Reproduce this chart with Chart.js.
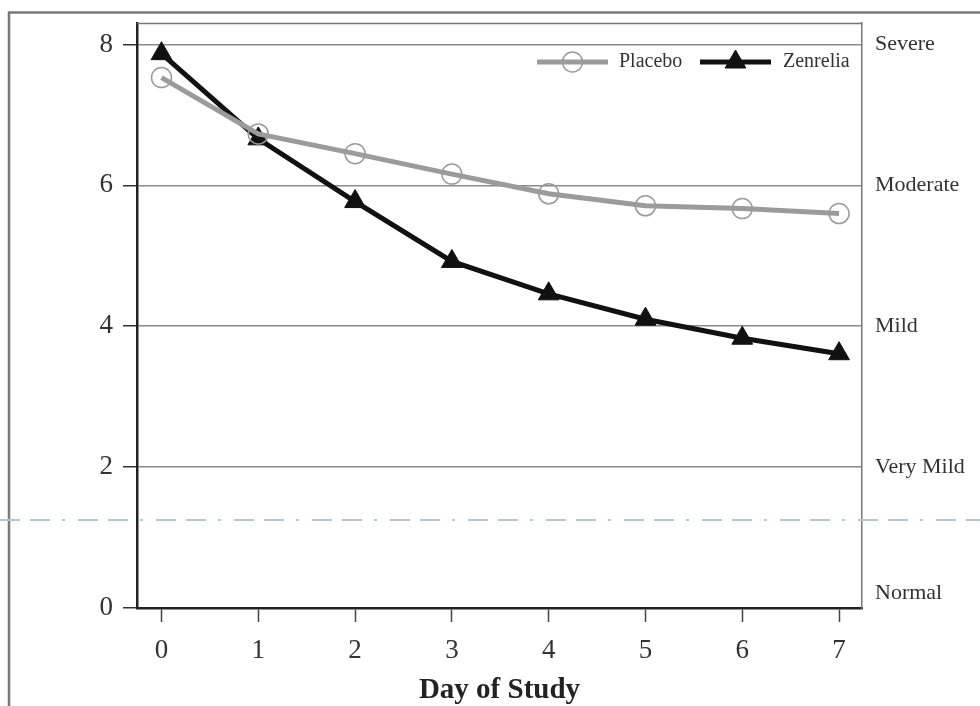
<!DOCTYPE html>
<html>
<head>
<meta charset="utf-8">
<script src="https://cdn.jsdelivr.net/npm/chart.js@4.4.1/dist/chart.umd.min.js"></script>
<style>
  html, body { margin: 0; padding: 0; background: #fff; }
  #wrap { width: 980px; height: 706px; position: relative; }
</style>
</head>
<body>
<div id="wrap"><canvas id="c"></canvas></div>
<script>
// ---- data ----
const days = [0, 1, 2, 3, 4, 5, 6, 7];
const placebo = [7.53, 6.73, 6.45, 6.16, 5.88, 5.71, 5.67, 5.60];
const zenrelia = [7.87, 6.66, 5.77, 4.92, 4.46, 4.10, 3.83, 3.61];
const yTicks = [0, 2, 4, 6, 8];
const severityLabels = ['Normal', 'Very Mild', 'Mild', 'Moderate', 'Severe'];
const severityValues = [0.21, 2, 4, 6, 8];
const referenceLevel = 1.25;
const seriesNames = ['Placebo', 'Zenrelia'];
const xTitle = 'Day of Study';

const SERIF = '"Liberation Serif", "DejaVu Serif", serif';

const frameAndExtras = {
  id: 'frameAndExtras',
  beforeDraw(chart) {
    const ctx = chart.ctx;
    ctx.save();
    ctx.strokeStyle = '#7a7a7a';
    ctx.lineWidth = 2.5;
    ctx.beginPath();
    ctx.moveTo(9, chart.height);
    ctx.lineTo(9, 12.5);
    ctx.lineTo(chart.width, 12.5);
    ctx.stroke();
    ctx.restore();
  },
  afterDraw(chart) {
    const ctx = chart.ctx;
    const a = chart.chartArea;
    const ys = chart.scales.y;
    ctx.save();
    // top border of plot
    ctx.strokeStyle = '#777';
    ctx.lineWidth = 1.5;
    ctx.beginPath();
    ctx.moveTo(a.left, a.top + 0.5);
    ctx.lineTo(a.right, a.top + 0.5);
    ctx.stroke();
    // dash-dot reference line across whole figure
    const yr = ys.getPixelForValue(referenceLevel);
    ctx.strokeStyle = '#b0c9ce';
    ctx.lineWidth = 2;
    ctx.setLineDash([20, 10, 20, 12, 3, 13]);
    ctx.beginPath();
    ctx.moveTo(0, yr);
    ctx.lineTo(chart.width, yr);
    ctx.stroke();
    ctx.setLineDash([]);
    // legend
    const ds = chart.data.datasets;
    const ly = a.top + 39;
    const items = [
      { x0: 537, x1: 608, tx: 619 },
      { x0: 700, x1: 771, tx: 783 }
    ];
    ctx.font = '20px ' + SERIF;
    ctx.textBaseline = 'middle';
    ctx.textAlign = 'left';
    ds.forEach((d, i) => {
      const it = items[i];
      ctx.strokeStyle = d.borderColor;
      ctx.lineWidth = d.borderWidth;
      ctx.beginPath();
      ctx.moveTo(it.x0, ly);
      ctx.lineTo(it.x1, ly);
      ctx.stroke();
      ctx.fillStyle = d.pointBackgroundColor;
      ctx.strokeStyle = d.pointBorderColor;
      ctx.lineWidth = d.pointBorderWidth;
      Chart.helpers.drawPoint(ctx, {
        pointStyle: d.pointStyle,
        radius: d.pointRadius,
        borderWidth: d.pointBorderWidth
      }, (it.x0 + it.x1) / 2, ly);
      ctx.fillStyle = '#333';
      ctx.fillText(d.label, it.tx, ly);
    });
    ctx.restore();
  }
};

const ctxEl = document.getElementById('c');
const chart = new Chart(ctxEl, {
  type: 'line',
  data: {
    datasets: [
      {
        label: seriesNames[0],
        data: days.map((d, i) => ({ x: d, y: placebo[i] })),
        borderColor: '#9b9b9b',
        borderWidth: 5,
        pointStyle: 'circle',
        pointRadius: 10,
        pointBorderWidth: 1.5,
        pointBorderColor: '#9b9b9b',
        pointBackgroundColor: 'rgba(0,0,0,0)',
        tension: 0
      },
      {
        label: seriesNames[1],
        data: days.map((d, i) => ({ x: d, y: zenrelia[i] })),
        borderColor: '#111',
        borderWidth: 5,
        pointStyle: 'triangle',
        pointRadius: 12,
        pointBorderWidth: 1,
        pointBorderColor: '#111',
        pointBackgroundColor: '#111',
        tension: 0
      }
    ]
  },
  options: {
    responsive: true,
    maintainAspectRatio: false,
    animation: false,
    devicePixelRatio: 1,
    layout: { padding: { left: 0, top: 23, right: 0, bottom: 0 } },
    plugins: {
      legend: { display: false },
      tooltip: { enabled: false }
    },
    scales: {
      x: {
        type: 'linear',
        min: -0.253,
        max: 7.237,
        afterBuildTicks: (s) => { s.ticks = days.map(v => ({ value: v })); },
        afterFit: (s) => { s.height = 98; s.paddingLeft = 0; s.paddingRight = 0; },
        border: { display: true, color: '#222', width: 2.5 },
        grid: { display: true, drawOnChartArea: false, drawTicks: true, tickLength: 14, color: '#333', tickColor: '#444', tickWidth: 1.5 },
        ticks: { color: '#333', font: { family: SERIF, size: 27 }, padding: 13, maxRotation: 0 },
        title: { display: true, text: xTitle, color: '#222', font: { family: SERIF, size: 29, weight: 'bold', lineHeight: 1.05 }, padding: { top: 0, bottom: 0 } }
      },
      y: {
        position: 'left',
        min: 0,
        max: 8.305,
        afterBuildTicks: (s) => { s.ticks = yTicks.map(v => ({ value: v })); },
        afterFit: (s) => { s.width = 137; s.paddingTop = 0; s.paddingBottom = 0; },
        border: { display: true, color: '#222', width: 2.5 },
        grid: { color: '#8a8a8a', lineWidth: 1.5, tickLength: 14, tickColor: '#333', tickWidth: 1.5 },
        ticks: { color: '#333', font: { family: SERIF, size: 27 }, padding: 10 }
      },
      y2: {
        position: 'right',
        min: 0,
        max: 8.305,
        afterBuildTicks: (s) => { s.ticks = severityValues.map(v => ({ value: v })); },
        afterFit: (s) => { s.width = 118; s.paddingTop = 0; s.paddingBottom = 0; },
        border: { display: true, color: '#777', width: 1.5 },
        grid: { display: false, drawTicks: false },
        ticks: {
          color: '#333',
          font: { family: SERIF, size: 22 },
          padding: 13,
          callback: (v, i) => severityLabels[i]
        }
      }
    }
  },
  plugins: [frameAndExtras]
});
</script>
</body>
</html>
